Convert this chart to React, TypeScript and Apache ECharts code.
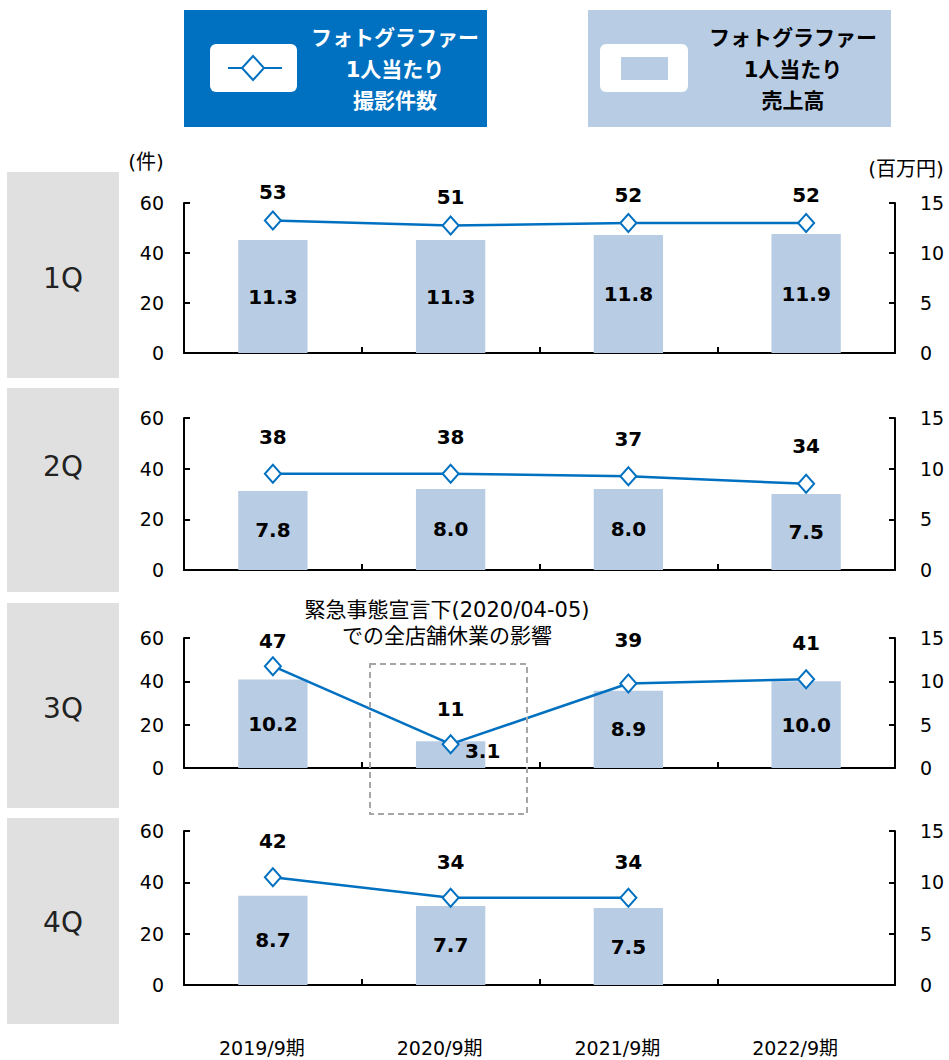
import React, { useEffect, useRef } from "react";
import * as echarts from "echarts";

const categories = ["2019/9期", "2020/9期", "2021/9期", "2022/9期"];
const quarterNames = ["1Q", "2Q", "3Q", "4Q"];
const countQ1 = [53, 51, 52, 52];
const countQ2 = [38, 38, 37, 34];
const countQ3 = [47, 11, 39, 41];
const countQ4 = [42, 34, 34, null];
const salesQ1 = [11.3, 11.3, 11.8, 11.9];
const salesQ2 = [7.8, 8.0, 8.0, 7.5];
const salesQ3 = [10.2, 3.1, 8.9, 10.0];
const salesQ4 = [8.7, 7.7, 7.5, null];
const leftTicks = [0, 20, 40, 60];
const rightTicks = [0, 5, 10, 15];

const counts = [countQ1, countQ2, countQ3, countQ4];
const sales = [salesQ1, salesQ2, salesQ3, salesQ4];

// layout / style config (not data)
const panels = [
  { top: 203, height: 150, box: [172, 378], labelY: 278, lineDist: [8, 8, 8, 8] },
  { top: 418, height: 152, box: [388, 592], labelY: 466, lineDist: [17, 17, 17, 18] },
  { top: 638, height: 130, box: [603, 808], labelY: 708, lineDist: [5, 15, 23, 16] },
  { top: 831, height: 154, box: [818, 1024], labelY: 922, lineDist: [16, 16, 16, 16] },
];

const BLUE = "#0070C0";
const LIGHT = "#B8CCE4";
const FONT = "'DejaVu Sans', 'Noto Sans CJK JP', sans-serif";

export default function App() {
  const ref = useRef<HTMLDivElement>(null);
  useEffect(() => {
    if (!ref.current) return;
    const chart = echarts.init(ref.current, undefined, { renderer: "svg" });
    const grids: any[] = [];
    const xAxes: any[] = [];
    const yAxes: any[] = [];
    const series: any[] = [];
    panels.forEach((p, i) => {
      grids.push({ left: 184, right: 54, top: p.top, height: p.height, containLabel: false });
      xAxes.push({
        type: "category",
        gridIndex: i,
        data: categories,
        axisLine: { show: true, lineStyle: { color: "#000", width: 2 } },
        axisTick: { show: true, inside: true, length: 6, lineStyle: { color: "#000", width: 2 } },
        axisLabel: {
          show: i === 3,
          margin: 53,
          fontSize: 19,
          color: "#000",
          fontFamily: FONT,
          padding: [0, 22, 0, 0],
        },
      });
      yAxes.push({
        type: "value",
        gridIndex: i,
        min: leftTicks[0],
        max: leftTicks[leftTicks.length - 1],
        interval: leftTicks[1] - leftTicks[0],
        position: "left",
        splitLine: { show: false },
        axisLine: { show: true, lineStyle: { color: "#000", width: 2 } },
        axisTick: { show: true, inside: true, length: 6, lineStyle: { color: "#000", width: 2 } },
        axisLabel: { margin: 20, fontSize: 19, color: "#000", fontFamily: FONT },
      });
      yAxes.push({
        type: "value",
        gridIndex: i,
        min: rightTicks[0],
        max: rightTicks[rightTicks.length - 1],
        interval: rightTicks[1] - rightTicks[0],
        position: "right",
        splitLine: { show: false },
        axisLine: { show: true, lineStyle: { color: "#000", width: 2 } },
        axisTick: { show: true, inside: true, length: 6, lineStyle: { color: "#000", width: 2 } },
        axisLabel: { margin: 25, fontSize: 19, color: "#000", fontFamily: FONT },
      });
      series.push({
        type: "bar",
        xAxisIndex: i,
        yAxisIndex: i * 2 + 1,
        barWidth: "39%",
        itemStyle: { color: LIGHT },
        z: 1,
        data: sales[i].map((v, j) => {
          if (v === null) return "-";
          const item: any = { value: v };
          if (i === 2 && j === 1) {
            item.label = { position: "inside", offset: [32, -4] };
          }
          return item;
        }),
        label: {
          show: true,
          position: "inside",
          fontSize: 20,
          fontWeight: "bold",
          color: "#000",
          fontFamily: FONT,
          formatter: (pr: any) => Number(pr.value).toFixed(1),
        },
      });
      series.push({
        type: "line",
        xAxisIndex: i,
        yAxisIndex: i * 2,
        z: 3,
        symbol: "diamond",
        symbolSize: [16, 18],
        showAllSymbol: true,
        lineStyle: { color: BLUE, width: 2.5 },
        itemStyle: { color: "#fff", borderColor: BLUE, borderWidth: 2 },
        data: counts[i].map((v, j) =>
          v === null ? "-" : { value: v, label: { distance: p.lineDist[j] } }
        ),
        label: {
          show: true,
          position: "top",
          fontSize: 20,
          fontWeight: "bold",
          color: "#000",
          fontFamily: FONT,
        },
      });
    });

    const txt = (x: number, y: number, text: string, size: number, color: string, bold = false) => ({
      type: "text",
      x,
      y,
      z: 10,
      style: {
        text,
        fill: color,
        font: `${bold ? "bold " : ""}${size}px ${FONT}`,
        align: "center",
        verticalAlign: "middle",
        textAlign: "center",
        textVerticalAlign: "middle",
      },
    });

    const graphic: any[] = [];
    // quarter boxes
    panels.forEach((p, i) => {
      graphic.push({
        type: "rect",
        shape: { x: 7, y: p.box[0], width: 112, height: p.box[1] - p.box[0] },
        style: { fill: "#E0E0E0" },
        z: 0,
      });
      graphic.push(txt(63, p.labelY, quarterNames[i], 28, "#222"));
    });
    // legend: count
    graphic.push({ type: "rect", shape: { x: 184, y: 10, width: 303, height: 117 }, style: { fill: BLUE } });
    graphic.push({ type: "rect", shape: { x: 210, y: 44, width: 87, height: 48, r: 6 }, style: { fill: "#fff" } });
    graphic.push({ type: "line", shape: { x1: 228, y1: 68, x2: 282, y2: 68 }, style: { stroke: BLUE, lineWidth: 2 } });
    graphic.push({
      type: "polygon",
      shape: { points: [[253, 56], [264, 68], [253, 80], [242, 68]] },
      style: { fill: "#fff", stroke: BLUE, lineWidth: 2 },
    });
    graphic.push(txt(395, 38, "フォトグラファー", 21, "#fff", true));
    graphic.push(txt(395, 70, "1人当たり", 21, "#fff", true));
    graphic.push(txt(395, 101, "撮影件数", 21, "#fff", true));
    // legend: sales
    graphic.push({ type: "rect", shape: { x: 588, y: 10, width: 303, height: 117 }, style: { fill: LIGHT } });
    graphic.push({ type: "rect", shape: { x: 600, y: 44, width: 88, height: 48, r: 6 }, style: { fill: "#fff" } });
    graphic.push({ type: "rect", shape: { x: 621, y: 57, width: 47, height: 23 }, style: { fill: LIGHT } });
    graphic.push(txt(793, 38, "フォトグラファー", 21, "#000", true));
    graphic.push(txt(793, 70, "1人当たり", 21, "#000", true));
    graphic.push(txt(793, 101, "売上高", 21, "#000", true));
    // units
    graphic.push(txt(146, 162, "(件)", 20, "#000"));
    graphic.push(txt(906, 169, "(百万円)", 20, "#000"));
    // annotation
    graphic.push(txt(447, 610, "緊急事態宣言下(2020/04-05)", 21, "#000"));
    graphic.push(txt(447, 636, "での全店舗休業の影響", 21, "#000"));
    graphic.push({
      type: "rect",
      z: 5,
      shape: { x: 370, y: 664, width: 157, height: 150 },
      style: { fill: "none", stroke: "#A6A6A6", lineWidth: 2, lineDash: [6, 4] },
    });

    chart.setOption({
      animation: false,
      grid: grids,
      xAxis: xAxes,
      yAxis: yAxes,
      series,
      graphic,
    });
    return () => chart.dispose();
  }, []);
  return (
    <div
      ref={ref}
      style={{ position: "absolute", left: 0, top: 0, width: 949, height: 1060, background: "#fff" }}
    />
  );
}
